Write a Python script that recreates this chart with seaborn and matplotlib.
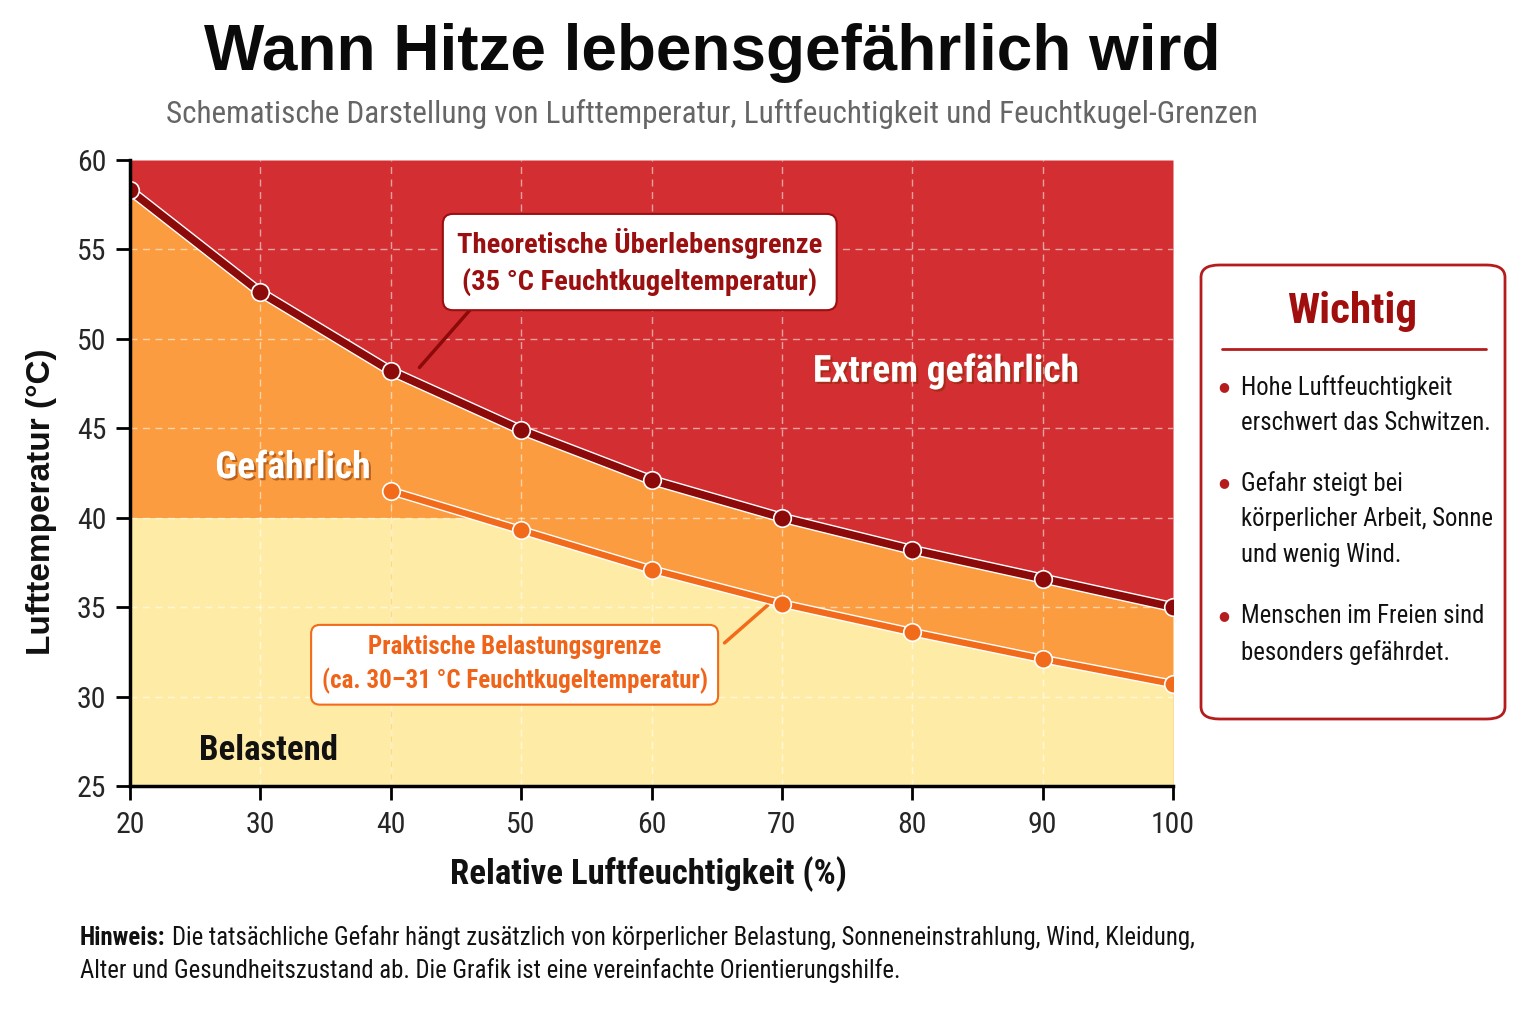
import numpy as np
import matplotlib
matplotlib.use("Agg")
import matplotlib.pyplot as plt
import matplotlib.patheffects as pe
from matplotlib import font_manager as fm
from matplotlib.patches import FancyBboxPatch
import seaborn as sns

# data
humidity = [20, 30, 40, 50, 60, 70, 80, 90, 100]
survival_limit = [58.3, 52.6, 48.2, 44.9, 42.1, 40.0, 38.2, 36.6, 35.0]
humidity_practical = [40, 50, 60, 70, 80, 90, 100]
practical_limit = [41.5, 39.3, 37.1, 35.2, 33.6, 32.1, 30.7]
zone_split = 40
x_ticks = [20, 30, 40, 50, 60, 70, 80, 90, 100]
y_ticks = [25, 30, 35, 40, 45, 50, 55, 60]
notes = ["Hohe Luftfeuchtigkeit\nerschwert das Schwitzen.",
         "Gefahr steigt bei\nkörperlicher Arbeit, Sonne\nund wenig Wind.",
         "Menschen im Freien sind\nbesonders gefährdet."]

sns.set_theme(style="white")

names = {f.name for f in fm.fontManager.ttflist}
COND = "Roboto Condensed" if "Roboto Condensed" in names else "Roboto"
plt.rcParams["font.family"] = [COND, "DejaVu Sans"]
BOLDSANS = ["Liberation Sans", "DejaVu Sans"]

RED = "#d32f33"
ORANGE = "#fa9c3f"
YELLOW = "#feeca6"
DARK = "#8c0a0a"
LINE_OR = "#f26b1b"

W, H = 1536, 1024
fig = plt.figure(figsize=(15.36, 10.24), dpi=100)
ax = fig.add_axes([130 / W, 1 - 786 / H, (1173 - 130) / W, (786 - 160) / H])

x = np.array(humidity)
up = np.array(survival_limit)
xp = np.array(humidity_practical)
lo = np.array(practical_limit)
xl = x[x <= humidity_practical[0]]

# zones
ax.fill_between(x, up, 60, color=RED, lw=0, zorder=1)
ax.fill_between(x, 25, up, color=ORANGE, lw=0, zorder=1)
ax.fill_between(xl, 25, zone_split, color=YELLOW, lw=0, zorder=1)
ax.fill_between(xp, 25, lo, color=YELLOW, lw=0, zorder=1)
ax.fill_between(xp, zone_split, lo, where=lo > zone_split, interpolate=True,
                color=ORANGE, lw=0, zorder=1)

for xv in x_ticks[1:-1]:
    ax.axvline(xv, color="white", lw=1, ls=(0, (5, 4)), alpha=0.55, zorder=2)
for yv in y_ticks[1:-1]:
    ax.axhline(yv, color="white", lw=1, ls=(0, (5, 4)), alpha=0.55, zorder=2)

sns.lineplot(x=x, y=up, ax=ax, color=DARK, lw=5.5, zorder=5,
             path_effects=[pe.Stroke(linewidth=7.5, foreground="white"), pe.Normal()])
sns.scatterplot(x=x, y=up, ax=ax, color=DARK, s=160, edgecolor="white",
                linewidth=1.2, zorder=6)
sns.lineplot(x=xp, y=lo, ax=ax, color=LINE_OR, lw=4.5, zorder=5,
             path_effects=[pe.Stroke(linewidth=6.5, foreground="white"), pe.Normal()])
sns.scatterplot(x=xp, y=lo, ax=ax, color=LINE_OR, s=160, edgecolor="white",
                linewidth=1.2, zorder=6)

ax.set_xlim(20, 100)
ax.set_ylim(25, 60)
ax.set_xticks(x_ticks)
ax.set_yticks(y_ticks)
ax.tick_params(axis="both", direction="out", length=10, width=2,
               color="black", labelsize=21.5, bottom=True, left=True)
ax.tick_params(axis="x", pad=8)
ax.tick_params(axis="y", pad=7)
for s in ["top", "right"]:
    ax.spines[s].set_visible(False)
for s in ["left", "bottom"]:
    ax.spines[s].set_color("black")
    ax.spines[s].set_linewidth(2.5)
    ax.spines[s].set_zorder(7)
ax.set_xlabel("Relative Luftfeuchtigkeit (%)", fontsize=25, fontweight="bold",
              color="#111111")
ax.xaxis.set_label_coords((648 - 130) / 1043, -(874 - 786) / 626)
ax.set_ylabel("Lufttemperatur (°C)", fontsize=24, fontweight="bold",
              family=BOLDSANS, color="#111111")
ax.yaxis.set_label_coords((42 - 130) / 1043, (786 - 502) / 626)
ax.xaxis.label.set_va("center")
ax.yaxis.label.set_va("center")

shadow = [pe.withSimplePatchShadow(offset=(1.5, -1.5), shadow_rgbFace="#7a2a00", alpha=0.5)]
ax.text(82.6, 48.2, "Extrem gefährlich", color="white", fontsize=27, fontweight="bold",
        ha="center", va="center", zorder=7, path_effects=shadow)
ax.text(32.5, 42.8, "Gefährlich", color="white", fontsize=27, fontweight="bold",
        ha="center", va="center", zorder=7, path_effects=shadow)
ax.text(30.6, 27.0, "Belastend", color="#111111", fontsize=25, fontweight="bold",
        ha="center", va="center", zorder=7)

# callouts
ax.plot([46.3, 42.2], [51.8, 48.4], color=DARK, lw=2.5, zorder=4)
ax.text(59.1, 54.3, "Theoretische Überlebensgrenze\n(35 °C Feuchtkugeltemperatur)",
        color="#9a0f0f", fontsize=20.5, fontweight="bold", ha="center", va="center",
        linespacing=1.4, zorder=8,
        bbox=dict(boxstyle="round,pad=0.5,rounding_size=0.35", fc="white",
                  ec="#9a0f0f", lw=1.5))
ax.plot([65.6, 68.9], [33.0, 35.1], color=LINE_OR, lw=2.5, zorder=4)
ax.text(49.5, 31.8, "Praktische Belastungsgrenze\n(ca. 30–31 °C Feuchtkugeltemperatur)",
        color="#f0641a", fontsize=18, fontweight="bold", ha="center", va="center",
        linespacing=1.45, zorder=8,
        bbox=dict(boxstyle="round,pad=0.42,rounding_size=0.35", fc="white",
                  ec=LINE_OR, lw=1.5))

# title block
fig.text(712 / W, 1 - 53 / H, "Wann Hitze lebensgefährlich wird", fontsize=46,
         fontweight="bold", ha="center", va="center", color="#0a0a0a",
         family=BOLDSANS)
fig.text(712 / W, 1 - 114 / H,
         "Schematische Darstellung von Lufttemperatur, Luftfeuchtigkeit und Feuchtkugel-Grenzen",
         fontsize=22.5, ha="center", va="center", color="#666666")

# side panel
panel = FancyBboxPatch((1201 / W, 1 - 719 / H), 304 / W, 454 / H,
                       boxstyle="round,pad=0,rounding_size=0.012",
                       transform=fig.transFigure, fc="white", ec="#b51c1c", lw=2)
fig.patches.append(panel)
fig.text(1352 / W, 1 - 312 / H, "Wichtig", fontsize=31, fontweight="bold",
         color="#a10e0e", ha="center", va="center")
fig.add_artist(plt.Line2D([1222 / W, 1486 / W], [1 - 349 / H, 1 - 349 / H],
                          color="#b51c1c", lw=2, transform=fig.transFigure))
note_y = [387, 483, 616]
for ny, txt in zip(note_y, notes):
    fig.text(1224 / W, 1 - ny / H, "●", fontsize=9, color="#b51c1c",
             ha="center", va="center", family="DejaVu Sans")
    fig.text(1241 / W, 1 - (ny - 12) / H, txt, fontsize=17.8, color="#111111",
             ha="left", va="top", linespacing=1.6)

# footnote
renderer = fig.canvas.get_renderer()
hint = fig.text(80 / W, 1 - 938 / H, "Hinweis:", fontsize=17.8, fontweight="bold",
                ha="left", va="center", color="#111111")
hx = hint.get_window_extent(renderer).x1
fig.text((hx + 7) / W, 1 - 938 / H,
         "Die tatsächliche Gefahr hängt zusätzlich von körperlicher Belastung, "
         "Sonneneinstrahlung, Wind, Kleidung,",
         fontsize=17.8, ha="left", va="center", color="#111111")
fig.text(80 / W, 1 - 971 / H,
         "Alter und Gesundheitszustand ab. Die Grafik ist eine vereinfachte Orientierungshilfe.",
         fontsize=17.8, ha="left", va="center", color="#111111")

fig.savefig("out.png", dpi=100, facecolor="white")
